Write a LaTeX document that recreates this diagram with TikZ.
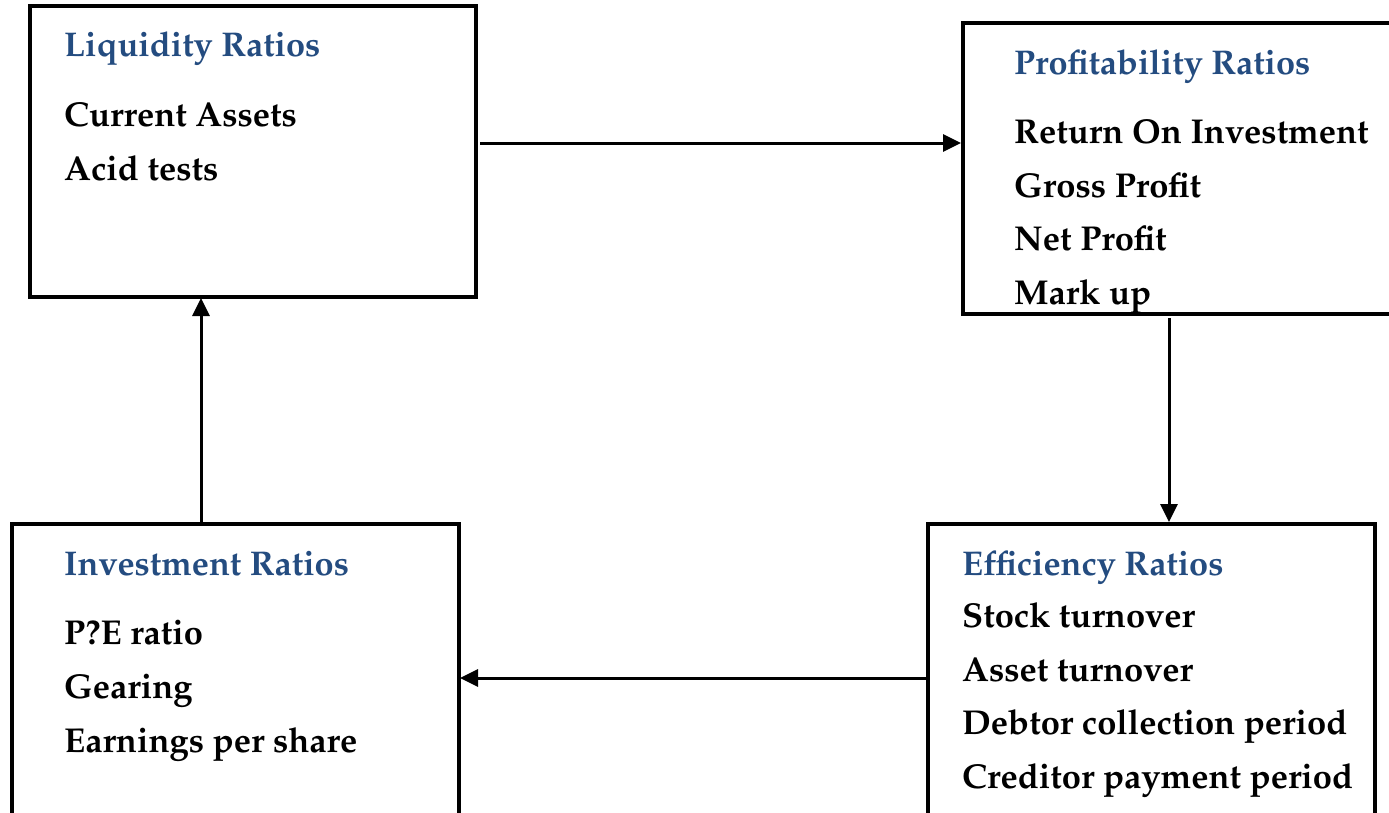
\documentclass[tikz,border=0pt]{standalone}
\usepackage[T1]{fontenc}
\usepackage{mathpazo}
\usetikzlibrary{arrows.meta}
\definecolor{ttl}{RGB}{36,76,128}
\tikzset{
  box/.style={draw=black, line width=3.1pt, anchor=north west, inner sep=0pt, outer sep=0pt},
  ttltext/.style={anchor=base west, inner sep=0pt, text=ttl, font=\fontsize{34.3}{40}\selectfont\bfseries},
  itemtext/.style={anchor=base west, inner sep=0pt, text=black, font=\fontsize{34.5}{42}\selectfont\bfseries},
  arr/.style={line width=3pt, -{Triangle[length=18pt,width=17pt]}}
}
\begin{document}
\begin{tikzpicture}[x=1pt,y=-1pt]
\useasboundingbox (0,0) rectangle (1389,812);
\begin{scope}
\clip (0,0) rectangle (1389,812);
% boxes
\node[box, minimum width=446pt, minimum height=291pt] (liq) at (30,6) {};
\node[box, minimum width=470pt, minimum height=291pt] (prof) at (963,23) {};
\node[box, minimum width=447pt, minimum height=320pt] (inv) at (12,524) {};
\node[box, minimum width=447pt, minimum height=320pt] (eff) at (928,524) {};
% texts: liquidity
\node[ttltext] (l0) at (64,56) {Liquidity Ratios};
\node[itemtext] (l1) at (64,126) {Current Assets};
\node[itemtext] (l2) at (64,180) {Acid tests};
% profitability
\node[ttltext] (p0) at (1014,74) {Profitability Ratios};
\node[itemtext] (p1) at (1014,143) {Return On Investment};
\node[itemtext] (p2) at (1014,197) {Gross Profit};
\node[itemtext] (p3) at (1014,250) {Net Profit};
\node[itemtext] (p4) at (1014,304) {Mark up};
% investment
\node[ttltext] (i0) at (64,575) {Investment Ratios};
\node[itemtext] (i1) at (64,644) {P?E ratio};
\node[itemtext] (i2) at (64,698) {Gearing};
\node[itemtext] (i3) at (64,752) {Earnings per share};
% efficiency
\node[ttltext] (e0) at (962,575) {Efficiency Ratios};
\node[itemtext] (e1) at (962,627) {Stock turnover};
\node[itemtext] (e2) at (962,681) {Asset turnover};
\node[itemtext] (e3) at (962,734) {Debtor collection period};
\node[itemtext] (e4) at (962,788) {Creditor payment period};
% connectors
\draw[arr, shorten <=4pt, shorten >=2pt] (liq.east |- 0,143) -- (prof.west |- 0,143);
\draw[arr, shorten <=4pt, shorten >=2pt] (prof.south -| 1169,0) -- (eff.north -| 1169,0);
\draw[arr, shorten >=1pt] (eff.west |- 0,678) -- (inv.east |- 0,678);
\draw[arr, shorten >=1pt] (inv.north -| 201,0) -- (liq.south -| 201,0);
\end{scope}
\end{tikzpicture}
\end{document}
